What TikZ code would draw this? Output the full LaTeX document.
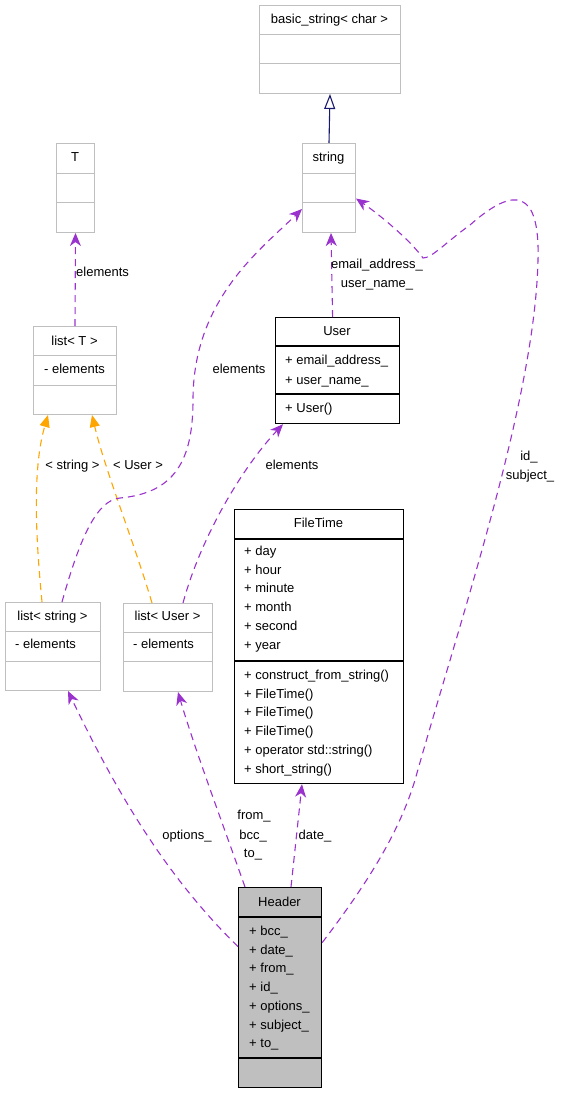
\documentclass[tikz,border=0pt]{standalone}
\usepackage{fontspec}
\setmainfont{Liberation Sans}
\usetikzlibrary{arrows.meta}
\definecolor{purp}{HTML}{9A32CD}
\definecolor{orng}{HTML}{FFA500}
\definecolor{navyc}{HTML}{191970}
\definecolor{gbord}{HTML}{BFBFBF}
\definecolor{hfill}{HTML}{BFBFBF}
\begin{document}
\begin{tikzpicture}[x=1pt,y=-1pt,
  font=\fontsize{13}{15}\selectfont,
  libbox/.style={draw=gbord, rectangle, anchor=north west, inner sep=0pt, line width=1pt},
  clsbox/.style={draw=black, rectangle, anchor=north west, inner sep=0pt, line width=1.2pt},
  title/.style={anchor=base, inner sep=0pt},
  mem/.style={anchor=base west, inner sep=0pt},
  lbl/.style={anchor=base, inner sep=0pt},
  rel/.style={draw=purp, line width=1.1pt, dash pattern=on 7pt off 5pt,
    -{Stealth[length=13pt,width=11pt,inset=4pt]}},
  tmpl/.style={draw=orng, line width=1.1pt, dash pattern=on 7pt off 5pt,
    -{Triangle[length=12pt,width=10pt]}},
  inh/.style={draw=navyc, line width=1.1pt,
    -{Triangle[open,length=15pt,width=11pt,fill=white]}}
]
\useasboundingbox (0,0) rectangle (568,1093);

% ---------- boxes ----------
\node[libbox, minimum width=141pt, minimum height=88pt] (bs) at (259,5) {};
\draw[draw=gbord, line width=1pt] (bs.north west) ++(0,29) -- ++(141,0);
\draw[draw=gbord, line width=1pt] (bs.north west) ++(0,58) -- ++(141,0);
\node[title] (bst) at (329.5,23.5) {basic\_string< char >};

\node[libbox, minimum width=53pt, minimum height=89pt] (str) at (302,143) {};
\draw[draw=gbord, line width=1pt] (str.north west) ++(0,30) -- ++(53,0);
\draw[draw=gbord, line width=1pt] (str.north west) ++(0,59) -- ++(53,0);
\node[title] (strt) at (328.5,161.5) {string};

\node[libbox, minimum width=38pt, minimum height=89pt] (T) at (56,143) {};
\draw[draw=gbord, line width=1pt] (T.north west) ++(0,30) -- ++(38,0);
\draw[draw=gbord, line width=1pt] (T.north west) ++(0,59) -- ++(38,0);
\node[title] (Tt) at (75,161.5) {T};

\node[libbox, minimum width=83pt, minimum height=88pt] (lT) at (33,326) {};
\draw[draw=gbord, line width=1pt] (lT.north west) ++(0,29) -- ++(83,0);
\draw[draw=gbord, line width=1pt] (lT.north west) ++(0,59) -- ++(83,0);
\node[title] (lTt) at (74.5,345.5) {list< T >};
\node[mem] (lTm) at (44,373.5) {- elements};

\node[clsbox, minimum width=124pt, minimum height=106pt] (usr) at (275,317) {};
\draw[line width=1.2pt] (usr.north west) ++(0,29) -- ++(124,0);
\draw[line width=1.2pt] (usr.north west) ++(0,77) -- ++(124,0);
\node[title] (usrt) at (337,335.5) {User};
\node[mem] (usrm1) at (285,364.5) {+ email\_address\_};
\node[mem] (usrm2) at (285,384) {+ user\_name\_};
\node[mem] (usrm3) at (285,412.5) {+ User()};

\node[clsbox, minimum width=169pt, minimum height=274pt] (ft) at (234,509) {};
\draw[line width=1.2pt] (ft.north west) ++(0,30) -- ++(169,0);
\draw[line width=1.2pt] (ft.north west) ++(0,152) -- ++(169,0);
\node[title] (ftt) at (318.5,527.5) {FileTime};
\foreach [count=\i] \t in {+ day, + hour, + minute, + month, + second, + year}
  \node[mem] (fta\i) at ({244},{555.5+18.7*(\i-1)}) {\t};
\foreach [count=\i] \t in {+ construct\_from\_string(), + FileTime(), + FileTime(), + FileTime(), + operator std::string(), + short\_string()}
  \node[mem] (ftm\i) at ({244},{679.5+18.7*(\i-1)}) {\t};

\node[libbox, minimum width=95pt, minimum height=88pt] (lS) at (5,602) {};
\draw[draw=gbord, line width=1pt] (lS.north west) ++(0,29) -- ++(95,0);
\draw[draw=gbord, line width=1pt] (lS.north west) ++(0,59) -- ++(95,0);
\node[title] (lSt) at (52.5,620.5) {list< string >};
\node[mem] (lSm) at (15,648.5) {- elements};

\node[libbox, minimum width=89pt, minimum height=88pt] (lU) at (123,603) {};
\draw[draw=gbord, line width=1pt] (lU.north west) ++(0,29) -- ++(89,0);
\draw[draw=gbord, line width=1pt] (lU.north west) ++(0,58) -- ++(89,0);
\node[title] (lUt) at (167.5,620.5) {list< User >};
\node[mem] (lUm) at (133,648.5) {- elements};

\node[clsbox, fill=hfill, minimum width=83pt, minimum height=200pt] (hdr) at (238,887) {};
\draw[line width=1.2pt] (hdr.north west) ++(0,30) -- ++(83,0);
\draw[line width=1.2pt] (hdr.north west) ++(0,171) -- ++(83,0);
\node[title] (hdrt) at (279.5,906.5) {Header};
\foreach [count=\i] \t in {+ bcc\_, + date\_, + from\_, + id\_, + options\_, + subject\_, + to\_}
  \node[mem] (hdrm\i) at ({249},{935.5+18.7*(\i-1)}) {\t};

% ---------- connectors ----------
\draw[inh] (str.north) -- (bs.south);

\draw[rel] (lT.north) -- (T.south);
\node[anchor=base west, inner sep=0pt] (l1) at (76,276.5) {elements};

\draw[tmpl] ([xshift=37pt]lS.north west) .. controls (36,540) and (32,470) .. ([xshift=15pt]lT.south west);
\node[lbl] (l2) at (72.5,469.5) {< string >};

\draw[tmpl] ([xshift=29pt]lU.north west) .. controls (135,545) and (105,470) .. ([xshift=59pt]lT.south west);
\node[lbl] (l3) at (138,469.5) {< User >};

\draw[rel] ([xshift=57pt]lS.north west) .. controls (78,545) and (95,500) .. (120,498)
   .. controls (175,493) and (193,460) .. (193,400)
   .. controls (193,300) and (260,250) .. ([yshift=-21pt]str.west);
\node[lbl] (l4) at (239,373.5) {elements};

\draw[rel] ([xshift=60pt]lU.north west) .. controls (200,540) and (240,470) .. ([xshift=8pt]usr.south west);
\node[lbl] (l5) at (292,469.5) {elements};

\draw[rel] ([xshift=-5pt]usr.north) -- ([xshift=2pt]str.south);
\node[lbl] (l6) at (377,268.5) {email\_address\_};
\node[lbl] (l7) at (377,287.5) {user\_name\_};

\draw[rel] ([yshift=45pt]hdr.east) .. controls (370,880) and (400,830) .. (415,780)
   .. controls (460,620) and (535,400) .. (538,260)
   .. controls (540,190) and (515,185) .. (470,225)
   .. controls (445,243) and (432,258) .. (423,258)
   .. controls (410,240) and (380,215) .. ([yshift=-10.5pt]str.east);
\node[lbl] (l8) at (529,460.5) {id\_};
\node[lbl] (l9) at (530,479.5) {subject\_};

\draw[rel] ([yshift=41pt]hdr.west) .. controls (170,880) and (120,800) .. ([xshift=63pt]lS.south west);
\node[lbl] (l10) at (187,839) {options\_};

\draw[rel] ([xshift=7pt]hdr.north west) .. controls (225,830) and (195,750) .. ([xshift=55pt]lU.south west);
\node[lbl] (l11) at (254,819.5) {from\_};
\node[lbl] (l12) at (253,839) {bcc\_};
\node[lbl] (l13) at (253,857.5) {to\_};

\draw[rel] ([xshift=53pt]hdr.north west) -- ([xshift=68pt]ft.south west);
\node[lbl] (l14) at (315,839) {date\_};
\end{tikzpicture}
\end{document}
